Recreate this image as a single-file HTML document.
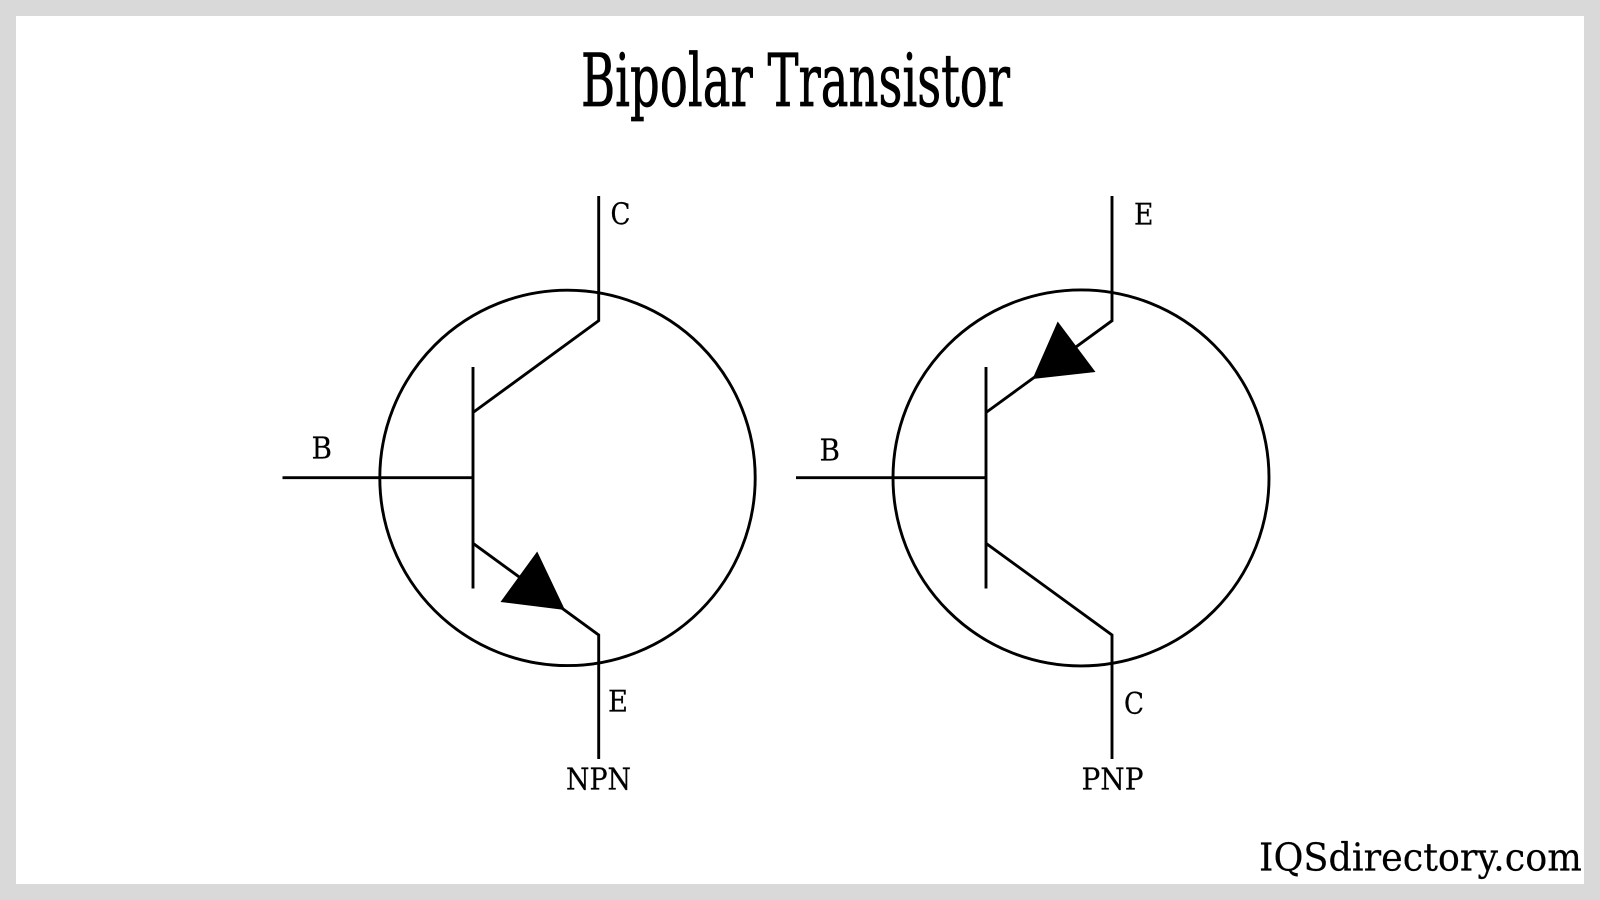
<!DOCTYPE html>
<html><head><meta charset="utf-8"><style>html,body{margin:0;padding:0;background:#d9d9d9}svg{display:block}text{font-family:"DejaVu Serif","Liberation Serif",serif;fill:#000}</style></head><body>
<svg width="1600" height="900" viewBox="0 0 1600 900" xmlns="http://www.w3.org/2000/svg">
<rect width="1600" height="900" fill="#d9d9d9"/>
<rect x="16" y="16" width="1568" height="868" fill="#fff"/>
<g fill="none" stroke="#000" stroke-width="2.9">
<circle cx="567.5" cy="477.9" r="187.7"/>
<circle cx="1081" cy="477.9" r="188"/>
<path d="M282.5 477.7H473M473 367V588.5M473 412.5L598.7 320.7V196M473 543.3L598.7 635V759"/>
<path d="M796 477.7H986M986 367V588.5M986 412.5L1112 320.7V196M986 543.3L1112 635V759"/>
</g>
<polygon points="565,610 537.2,551.5 500.5,602" fill="#000"/>
<polygon points="1057.7,321.5 1095.5,372 1032.5,379" fill="#000"/>
<text x="581" y="106" font-size="73" textLength="429" lengthAdjust="spacingAndGlyphs" stroke="#000" stroke-width="0.8">Bipolar Transistor</text>
<g font-size="29.5" stroke="#000" stroke-width="0.2">
<text x="610.5" y="224.5" textLength="20" lengthAdjust="spacingAndGlyphs">C</text>
<text x="311.5" y="458.5" textLength="20.5" lengthAdjust="spacingAndGlyphs">B</text>
<text x="608" y="711.3" textLength="20" lengthAdjust="spacingAndGlyphs">E</text>
<text x="566" y="789.5" textLength="65" lengthAdjust="spacingAndGlyphs">NPN</text>
<text x="1134" y="224.5" textLength="19.5" lengthAdjust="spacingAndGlyphs">E</text>
<text x="819.5" y="460.5" textLength="20.5" lengthAdjust="spacingAndGlyphs">B</text>
<text x="1124" y="714" textLength="20" lengthAdjust="spacingAndGlyphs">C</text>
<text x="1081.5" y="789.5" textLength="62" lengthAdjust="spacingAndGlyphs">PNP</text>
</g>
<text x="1259" y="870.5" font-size="38.5" textLength="323" lengthAdjust="spacingAndGlyphs" stroke="#000" stroke-width="0.2">IQSdirectory.com</text>
</svg>
</body></html>
